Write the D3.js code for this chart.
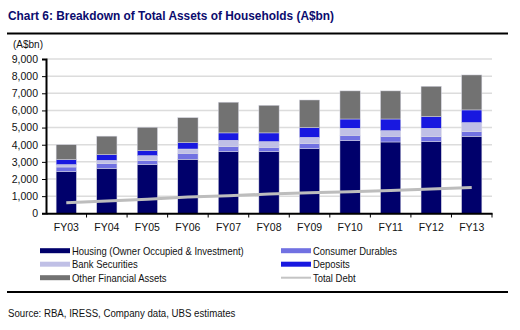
<!DOCTYPE html>
<html>
<head>
<meta charset="utf-8">
<script src="https://cdn.jsdelivr.net/npm/d3@7"></script>
<style>
  body { margin: 0; background: #fff; }
  svg { font-family: "Liberation Sans", Arial, sans-serif; }
</style>
</head>
<body>
<div id="chart"></div>
<script>
// Chart size
const width = 520;
const height = 330;

// Financial years on the x axis
const years = ["FY03", "FY04", "FY05", "FY06", "FY07", "FY08", "FY09", "FY10", "FY11", "FY12", "FY13"];

// Household assets by type (A$bn)
const housing = [2430, 2620, 2840, 3150, 3600, 3600, 3770, 4240, 4160, 4180, 4490];
const consumerDurables = [270, 280, 230, 350, 290, 250, 290, 310, 330, 290, 270];
const bankSecurities = [140, 190, 290, 250, 370, 330, 370, 410, 330, 490, 530];
const deposits = [290, 330, 290, 370, 430, 510, 570, 540, 680, 680, 740];
const otherFinancial = [870, 1080, 1370, 1460, 1790, 1610, 1610, 1640, 1640, 1770, 2040];

// Household debt (A$bn)
const totalDebt = [620, 720, 820, 950, 1030, 1120, 1200, 1260, 1330, 1420, 1500];

// Y axis ticks
const yTicks = [0, 1000, 2000, 3000, 4000, 5000, 6000, 7000, 8000, 9000];

const seriesNames = ["Housing (Owner Occupied & Investment)", "Consumer Durables", "Bank Securities", "Deposits", "Other Financial Assets"];
const seriesColors = ["#00006b", "#7171e2", "#c0c0e6", "#1818e0", "#727272"];
const seriesValues = [housing, consumerDurables, bankSecurities, deposits, otherFinancial];

const rows = years.map((y, i) => {
    const row = { year: y };
    seriesNames.forEach((n, k) => row[n] = seriesValues[k][i]);
    return row;
});
const stacked = d3.stack().keys(seriesNames)(rows);

const svg = d3.select("#chart")
    .append("svg")
    .attr("width", width)
    .attr("height", height);

// squeeze text horizontally, the report font is narrower than Arial
function narrow(sel, k) {
    sel.each(function() {
        const w = this.getComputedTextLength();
        d3.select(this)
            .attr("textLength", w * k)
            .attr("lengthAdjust", "spacingAndGlyphs");
    });
}

// Title and rules
svg.append("text")
    .attr("x", 8)
    .attr("y", 20)
    .attr("font-size", 13.5)
    .attr("font-weight", "bold")
    .attr("fill", "#0b0b6e")
    .text("Chart 6: Breakdown of Total Assets of Households (A$bn)")
    .call(narrow, 0.88);

svg.append("line")
    .attr("x1", 7).attr("x2", 508)
    .attr("y1", 33.5).attr("y2", 33.5)
    .attr("stroke", "#000").attr("stroke-width", 2);

svg.append("line")
    .attr("x1", 7).attr("x2", 508)
    .attr("y1", 292).attr("y2", 292)
    .attr("stroke", "#000").attr("stroke-width", 2);

svg.append("text")
    .attr("x", 8)
    .attr("y", 317)
    .attr("font-size", 10)
    .attr("fill", "#111")
    .text("Source: RBA, IRESS, Company data, UBS estimates")
    .call(narrow, 0.965);

// Scales
const x = d3.scaleBand()
    .domain(years)
    .range([46, 492])
    .paddingInner(0.5)
    .paddingOuter(0.25);

const xEdge = d3.scaleBand().domain(years).range([46, 492]);

const y = d3.scaleLinear()
    .domain([0, 9000])
    .range([213.3, 59]);

// Gridlines
svg.append("g")
    .selectAll("line")
    .data(yTicks.slice(1))
    .enter()
    .append("line")
    .attr("x1", 46).attr("x2", 492)
    .attr("y1", d => y(d)).attr("y2", d => y(d))
    .attr("stroke", "#dcdcdc")
    .attr("stroke-width", 1.5);

// Y axis
const yAxis = svg.append("g")
    .attr("transform", "translate(46,0)")
    .call(d3.axisLeft(y).tickValues(yTicks).tickSize(4).tickPadding(4).tickFormat(d3.format(",")));
yAxis.select(".domain").attr("stroke", "#000").attr("stroke-width", 2);
yAxis.selectAll(".tick line").attr("stroke", "#000");
yAxis.selectAll("text").attr("font-size", 10.5).attr("fill", "#111").attr("font-family", "Liberation Sans, Arial, sans-serif");

svg.append("text")
    .attr("x", 13)
    .attr("y", 48)
    .attr("font-size", 10)
    .attr("fill", "#111")
    .text("(A$bn)");

// Stacked bars
svg.append("g")
    .selectAll("g")
    .data(stacked)
    .enter()
    .append("g")
    .attr("fill", (d, i) => seriesColors[i])
    .selectAll("rect")
    .data(d => d)
    .enter()
    .append("rect")
    .attr("x", d => x(d.data.year))
    .attr("width", x.bandwidth())
    .attr("y", d => y(d[1]))
    .attr("height", d => y(d[0]) - y(d[1]))
    .attr("stroke", "#d8d8e4")
    .attr("stroke-width", 0.5);

// Total debt line
const line = d3.line()
    .x((d, i) => xEdge(years[i]) + xEdge.bandwidth() / 2)
    .y(d => y(d));

svg.append("path")
    .datum(totalDebt)
    .attr("d", line)
    .attr("fill", "none")
    .attr("stroke", "#bdbdbd")
    .attr("stroke-width", 3);

// X axis
const xAxis = svg.append("g")
    .attr("transform", "translate(0,213.3)")
    .call(d3.axisBottom(xEdge).tickSize(0).tickPadding(10));
xAxis.select(".domain").attr("stroke", "#000").attr("stroke-width", 2);
xAxis.selectAll("text").attr("font-size", 10.5).attr("fill", "#111").attr("font-family", "Liberation Sans, Arial, sans-serif");

// Tick marks between categories
svg.append("g")
    .selectAll("line")
    .data(years)
    .enter()
    .append("line")
    .attr("x1", d => xEdge(d) + xEdge.bandwidth())
    .attr("x2", d => xEdge(d) + xEdge.bandwidth())
    .attr("y1", 213.3).attr("y2", 217.5)
    .attr("stroke", "#000");

// Legend
const legendItems = [
    { name: seriesNames[0], color: seriesColors[0], col: 0, row: 0, type: "bar" },
    { name: seriesNames[1], color: seriesColors[1], col: 1, row: 0, type: "bar" },
    { name: seriesNames[2], color: seriesColors[2], col: 0, row: 1, type: "bar" },
    { name: seriesNames[3], color: seriesColors[3], col: 1, row: 1, type: "bar" },
    { name: seriesNames[4], color: seriesColors[4], col: 0, row: 2, type: "bar" },
    { name: "Total Debt", color: "#c4c4c4", col: 1, row: 2, type: "line" }
];

const legend = svg.append("g").attr("id", "legend");
const item = legend.selectAll("g")
    .data(legendItems)
    .enter()
    .append("g")
    .attr("transform", d => `translate(${d.col ? 281 : 40},${250.7 + d.row * 13.5})`);

item.append("rect")
    .attr("x", 0)
    .attr("y", d => d.type === "bar" ? -2.5 : -1)
    .attr("width", 30)
    .attr("height", d => d.type === "bar" ? 5 : 2)
    .attr("fill", d => d.color);

item.append("text")
    .attr("x", 32)
    .attr("y", 4)
    .attr("font-size", 10.5)
    .attr("fill", "#111")
    .text(d => d.name)
    .call(narrow, 0.9);
</script>
</body>
</html>
